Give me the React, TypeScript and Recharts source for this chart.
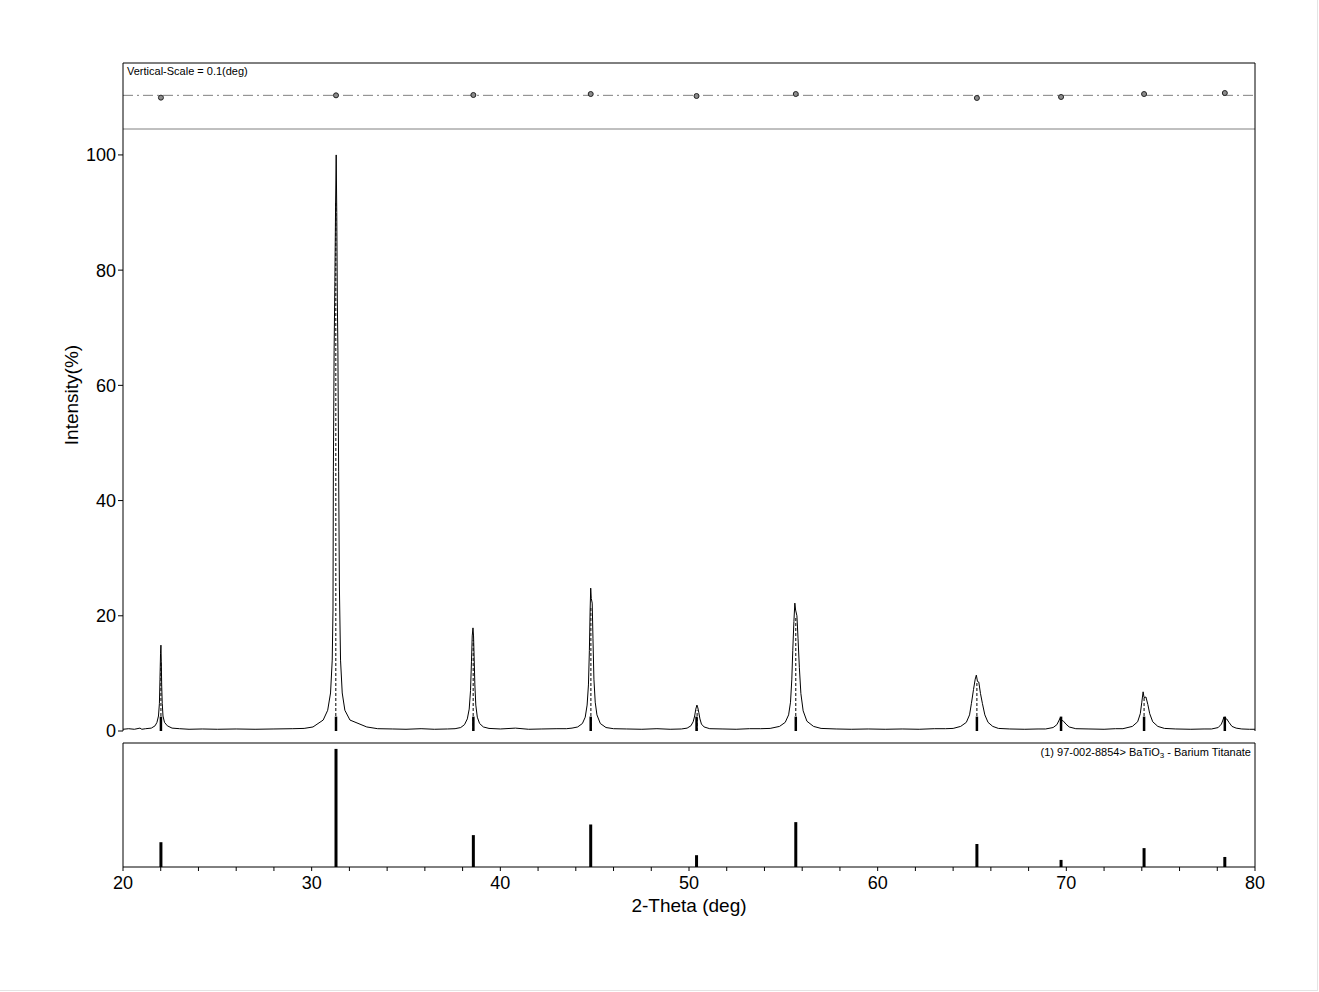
import React from "react";
import {
  ComposedChart,
  Line,
  Scatter,
  XAxis,
  YAxis,
  ReferenceLine,
} from "recharts";

const FONT = "'Liberation Sans', Arial, Helvetica, sans-serif";

// reference card 97-002-8854 (BaTiO3): 2-theta and relative intensity
const refPos = [22.01, 31.29, 38.57, 44.79, 50.4, 55.66, 65.26, 69.72, 74.12, 78.4];
const refInt = [21, 100, 27, 36, 10, 38, 19.5, 6, 16, 8.5];

// fitted peak heights (dashed lines in the main panel)
const fitPos = [22.01, 31.28, 38.56, 44.8, 50.43, 55.66, 65.26, 69.72, 74.12, 78.4];
const fitInt = [12, 92, 15.8, 21.5, 3.6, 19.8, 8.5, 1.8, 5.8, 2.0];

// peak shift strip, deg
const shift = [-0.007, 0, 0.001, 0.004, -0.002, 0.004, -0.008, -0.005, 0.004, 0.007];

// short marker height at the bottom of the main panel (%)
const markH = 2.5;

const xTicks = [20, 22, 24, 26, 28, 30, 32, 34, 36, 38, 40, 42, 44, 46, 48, 50, 52, 54, 56, 58, 60, 62, 64, 66, 68, 70, 72, 74, 76, 78, 80];
const yTicks = [0, 20, 40, 60, 80, 100];

// measured pattern, [2theta, intensity %]
const bg1 = [[20.0, 0.3], [20.3, 0.4], [20.6, 0.3], [20.9, 0.5], [21.0, 0.3]];
const peak1 = [[21.2, 0.4], [21.5, 0.5], [21.7, 0.9], [21.8, 1.5], [21.88, 2.6], [21.93, 4.8], [21.96, 9], [21.99, 13.5], [22.01, 14.9], [22.03, 12], [22.05, 8], [22.08, 4.8], [22.12, 2.6], [22.2, 1.5], [22.35, 0.9], [22.6, 0.5]];
const bg2 = [[23.0, 0.4], [23.5, 0.3], [24.2, 0.35], [25.0, 0.3], [26.0, 0.35], [27.0, 0.3], [28.0, 0.35], [29.0, 0.4], [29.6, 0.45]];
const peak2 = [[30.07, 0.7], [30.61, 1.9], [30.85, 3.6], [31.0, 6.6], [31.09, 12.3], [31.13, 21], [31.15, 45], [31.19, 66], [31.23, 78], [31.27, 92], [31.3, 100], [31.33, 90], [31.36, 75], [31.39, 66], [31.43, 45], [31.47, 25], [31.53, 12.3], [31.62, 6.6], [31.76, 3.6], [32.03, 1.9], [32.92, 0.7]];
const bg3 = [[33.5, 0.4], [34.3, 0.35], [35.0, 0.3], [35.8, 0.4], [36.5, 0.3], [37.2, 0.35]];
const peak3 = [[37.6, 0.4], [37.9, 0.6], [38.1, 1.1], [38.25, 2.1], [38.35, 3.8], [38.42, 7], [38.47, 12], [38.51, 16.5], [38.55, 17.9], [38.58, 16.5], [38.61, 13], [38.65, 8], [38.7, 4.5], [38.78, 2.4], [38.9, 1.3], [39.1, 0.7], [39.4, 0.45]];
const bg4 = [[40.0, 0.35], [40.8, 0.5], [41.5, 0.3], [42.2, 0.35], [43.0, 0.4], [43.5, 0.4]];
const peak4 = [[43.8, 0.5], [44.1, 0.7], [44.35, 1.3], [44.5, 2.4], [44.6, 4.5], [44.67, 8], [44.72, 14], [44.76, 21], [44.79, 24.8], [44.82, 23], [44.87, 22.2], [44.91, 16], [44.96, 9], [45.03, 5], [45.12, 2.8], [45.3, 1.3], [45.6, 0.6], [46.0, 0.4]];
const bg5 = [[46.7, 0.35], [47.5, 0.3], [48.3, 0.4], [49.0, 0.3]];
const peak5 = [[49.6, 0.35], [49.9, 0.5], [50.1, 0.9], [50.22, 1.6], [50.3, 2.6], [50.36, 3.8], [50.42, 4.5], [50.47, 4.0], [50.52, 3.2], [50.58, 2.1], [50.66, 1.2], [50.8, 0.7], [51.1, 0.4]];
const bg6 = [[51.8, 0.35], [52.5, 0.3], [53.2, 0.4], [53.8, 0.4]];
const peak6 = [[54.3, 0.45], [54.8, 0.8], [55.1, 1.5], [55.28, 2.8], [55.38, 5], [55.45, 9], [55.5, 14], [55.56, 19], [55.61, 22.2], [55.65, 21], [55.72, 20], [55.78, 16], [55.85, 11], [55.93, 6.5], [56.05, 3.5], [56.25, 1.7], [56.6, 0.8], [57.0, 0.45]];
const bg7 = [[57.8, 0.35], [58.6, 0.3], [59.5, 0.35], [60.4, 0.3], [61.3, 0.35], [62.2, 0.3], [63.0, 0.4], [63.6, 0.4]];
const peak7 = [[64.0, 0.45], [64.4, 0.8], [64.7, 1.5], [64.87, 2.8], [64.97, 4.8], [65.08, 7.2], [65.17, 9], [65.23, 9.7], [65.29, 8.6], [65.36, 8.5], [65.45, 6.5], [65.55, 4.8], [65.68, 2.8], [65.85, 1.5], [66.1, 0.8], [66.4, 0.45]];
const bg8 = [[67.0, 0.35], [67.8, 0.3], [68.5, 0.35]];
const peak8 = [[68.9, 0.35], [69.3, 0.6], [69.5, 1.1], [69.62, 1.9], [69.69, 2.4], [69.74, 1.9], [69.85, 1.7], [69.98, 1.2], [70.15, 0.7], [70.5, 0.4]];
const bg9 = [[71.2, 0.35], [72.0, 0.3], [72.6, 0.4]];
const peak9 = [[73.0, 0.4], [73.5, 0.8], [73.78, 1.6], [73.92, 3], [74.0, 5], [74.07, 6.8], [74.12, 5.8], [74.22, 5.9], [74.32, 4.6], [74.42, 3], [74.58, 1.6], [74.85, 0.8], [75.2, 0.45]];
const bg10 = [[75.8, 0.35], [76.6, 0.3], [77.3, 0.35]];
const peak10 = [[77.7, 0.35], [78.05, 0.6], [78.22, 1.2], [78.3, 1.9], [78.35, 2.4], [78.4, 2.0], [78.5, 2.1], [78.62, 1.5], [78.78, 0.8], [79.0, 0.5], [79.3, 0.35]];
const bg11 = [[79.7, 0.3], [80.0, 0.3]];

const profile = [
  ...bg1, ...peak1, ...bg2, ...peak2, ...bg3, ...peak3, ...bg4, ...peak4, ...bg5, ...peak5,
  ...bg6, ...peak6, ...bg7, ...peak7, ...bg8, ...peak8, ...bg9, ...peak9, ...bg10, ...peak10, ...bg11,
].map(([t, i]) => ({ t, i }));

const shiftData = refPos.map((t, k) => ({ t, d: shift[k] }));
const stickData = refPos.map((t, k) => ({ t, h: refInt[k] }));

const W = 1319;
const abs: React.CSSProperties = { position: "absolute", left: 0, top: 0 };

const Dot = (p: any) => (
  <circle cx={p.cx} cy={p.cy} r={2.5} fill="#8c8c8c" stroke="#222" strokeWidth={1} />
);

export default function App() {
  return (
    <div style={{ ...abs, width: W, height: 992, background: "#fff", fontFamily: FONT, color: "#000" }}>
      <div style={{ ...abs, width: 1317, height: 990, borderRight: "1px solid #e4e4e4", borderBottom: "1px solid #e4e4e4" }} />

      {/* top strip: peak shift */}
      <div style={abs}>
        <ComposedChart width={W} height={130} data={shiftData} margin={{ top: 63, right: 64, bottom: 1, left: 123 }}>
          <XAxis dataKey="t" type="number" domain={[20, 80]} hide />
          <YAxis type="number" domain={[-0.102, 0.098]} hide />
          <ReferenceLine y={0} stroke="#808080" strokeDasharray="10 4 2 4" />
          <ReferenceLine y={0.098} stroke="#000" />
          <ReferenceLine y={-0.102} stroke="#808080" />
          <ReferenceLine x={20} stroke="#000" />
          <ReferenceLine x={80} stroke="#000" />
          <Scatter dataKey="d" shape={Dot} isAnimationActive={false} />
        </ComposedChart>
      </div>

      {/* main panel */}
      <div style={abs}>
        <ComposedChart width={W} height={740} data={profile} margin={{ top: 129, right: 64, bottom: 9, left: 63 }}>
          <XAxis dataKey="t" type="number" domain={[20, 80]} hide />
          <YAxis
            type="number"
            domain={[0, 104.5]}
            ticks={yTicks}
            interval={0}
            width={60}
            tickSize={5}
            tickMargin={2}
            axisLine={{ stroke: "#000" }}
            tickLine={{ stroke: "#000" }}
            tick={{ fontSize: 18, fill: "#000", fontFamily: FONT }}
          />
          <ReferenceLine x={80} stroke="#000" />
          {fitPos.map((p, k) => (
            <ReferenceLine key={"f" + k} segment={[{ x: p, y: 0 }, { x: p, y: fitInt[k] }]} stroke="#000" strokeDasharray="3 2" />
          ))}
          {refPos.map((p, k) => (
            <ReferenceLine key={"m" + k} segment={[{ x: p, y: 0 }, { x: p, y: markH }]} stroke="#000" strokeWidth={2.5} />
          ))}
          <Line dataKey="i" type="linear" stroke="#000" strokeWidth={1} dot={false} isAnimationActive={false} />
        </ComposedChart>
      </div>

      {/* bottom panel: reference sticks */}
      <div style={abs}>
        <ComposedChart width={W} height={930} data={stickData} margin={{ top: 743, right: 64, bottom: 23, left: 123 }}>
          <XAxis
            dataKey="t"
            type="number"
            domain={[20, 80]}
            ticks={xTicks}
            interval={0}
            height={40}
            tickSize={4}
            tickMargin={5}
            tickFormatter={(v: number) => (v % 10 === 0 ? String(v) : "")}
            axisLine={{ stroke: "#000" }}
            tickLine={{ stroke: "#000" }}
            tick={{ fontSize: 18, fill: "#000", fontFamily: FONT }}
          />
          <YAxis type="number" domain={[0, 105]} hide />
          <ReferenceLine y={105} stroke="#000" />
          <ReferenceLine x={20} stroke="#000" />
          <ReferenceLine x={80} stroke="#000" />
          {refPos.map((p, k) => (
            <ReferenceLine key={"s" + k} segment={[{ x: p, y: 0 }, { x: p, y: refInt[k] }]} stroke="#000" strokeWidth={3} />
          ))}
          <Line dataKey="h" stroke="none" dot={false} isAnimationActive={false} />
        </ComposedChart>
      </div>

      <div style={{ position: "absolute", left: 127, top: 65, fontSize: 11, whiteSpace: "nowrap" }}>
        Vertical-Scale = 0.1(deg)
      </div>
      <div style={{ position: "absolute", left: 851, top: 746, width: 400, textAlign: "right", fontSize: 11, whiteSpace: "nowrap" }}>
        (1) 97-002-8854&gt; BaTiO<sub style={{ fontSize: 8, verticalAlign: "-2px" }}>3</sub> - Barium Titanate
      </div>
      <div style={{ position: "absolute", left: 72, top: 395, transform: "translate(-50%, -50%) rotate(-90deg)", fontSize: 19, whiteSpace: "nowrap" }}>
        Intensity(%)
      </div>
      <div style={{ position: "absolute", left: 689, top: 906, transform: "translate(-50%, -50%)", fontSize: 19, whiteSpace: "nowrap" }}>
        2-Theta (deg)
      </div>
    </div>
  );
}
